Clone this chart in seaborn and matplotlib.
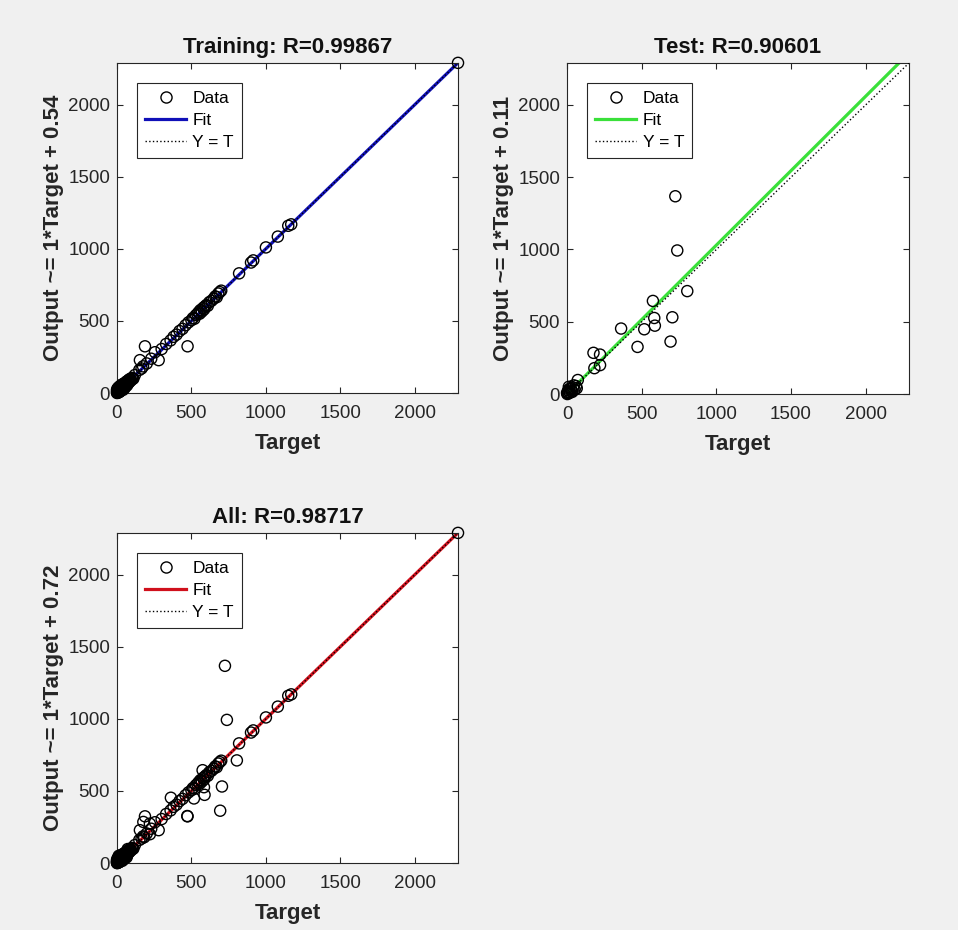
import numpy as np
import pandas as pd
import seaborn as sns
import matplotlib.pyplot as plt
from matplotlib.lines import Line2D

# --- data ---

train_target = [0, 0, 1, 2, 3, 4, 5, 6, 7, 8, 9, 10, 11, 12, 13, 14, 15, 16, 18, 19,
                20, 21, 22, 24, 25, 26, 28, 29, 30, 32, 33, 35, 36, 38, 40, 41, 42, 44,
                45, 47, 48, 50, 52, 55, 57, 58, 60, 62, 65, 67, 70, 72, 75, 78, 80, 83,
                85, 88, 90, 95, 100, 105, 110, 120,
                150, 154, 165, 175, 188, 200, 230, 255, 280, 300, 330, 360, 380, 400, 420,
                440, 460, 474, 480, 500, 510, 520, 530, 540, 548, 555, 560, 570, 578, 585,
                590, 600, 610, 620, 635, 650, 660, 670, 680, 690, 700, 820, 900, 915, 1000,
                1080, 1150, 1170, 2290]
train_output = [4, 20, 0, 12, 30, 2, 10, 22, 6, 16, 35, 18, 4, 40, 12, 22, 8, 28, 45, 14,
                10, 32, 26, 50, 16, 38, 20, 55, 38, 25, 44, 30, 60, 42, 48, 22, 36, 58,
                52, 66, 40, 58, 35, 46, 70, 65, 55, 78, 70, 52, 62, 85, 76, 70, 88, 95,
                78, 92, 96, 88, 105, 98, 100, 125,
                160, 228, 170, 185, 324, 205, 238, 283, 228, 305, 340, 365, 390, 405, 430,
                445, 470, 324, 490, 505, 520, 515, 540, 548, 560, 550, 575, 565, 590, 580,
                600, 610, 605, 630, 640, 655, 670, 665, 690, 700, 710, 830, 905, 920, 1010,
                1085, 1160, 1170, 2290]

test_target = [725, 738, 805, 575, 584, 588, 705, 517, 362, 472, 693, 177, 221, 183, 221,
               72, 60, 30, 15, 10, 40, 20, 5, 50, 2, 0, 8, 25, 35, 45, 65, 12]
test_output = [1368, 993, 712, 644, 526, 473, 531, 448, 453, 326, 363, 285, 273, 179, 200,
               97, 55, 20, 35, 5, 45, 10, 15, 30, 0, 8, 25, 40, 15, 60, 40, 50]

titles = ["Training: R=0.99867", "Test: R=0.90601", "All: R=0.98717"]
ylabels = ["Output ~= 1*Target + 0.54", "Output ~= 1*Target + 0.11", "Output ~= 1*Target + 0.72"]
fit_slope = [1.0, 1.03, 1.0]
fit_intercept = [0.54, 0.11, 0.72]
fit_colors = ["#1010b8", "#3ae03a", "#d0101c"]
ticks = [0, 500, 1000, 1500, 2000]

sets = [
    pd.DataFrame({"target": train_target, "output": train_output}),
    pd.DataFrame({"target": test_target, "output": test_output}),
]
sets.append(pd.concat(sets, ignore_index=True))

lim = max(max(train_target), max(train_output))

plt.rcParams["font.family"] = ["Liberation Sans", "DejaVu Sans"]

fig = plt.figure(figsize=(9.58, 9.30), dpi=100, facecolor="#f0f0f0")

positions = [
    [0.1221, 0.5774, 0.356, 0.355],
    [0.5919, 0.5763, 0.357, 0.356],
    [0.1221, 0.0720, 0.356, 0.355],
]

for i, df in enumerate(sets):
    ax = fig.add_axes(positions[i])
    ax.set_facecolor("white")

    xs = np.array([0, lim])
    fit = ax.plot(xs, fit_slope[i] * xs + fit_intercept[i], color=fit_colors[i],
                  linewidth=2.3, zorder=2)[0]
    ident = ax.plot(xs, xs, color="black", linestyle=":", linewidth=1.0, zorder=3)[0]

    sns.scatterplot(data=df, x="target", y="output", ax=ax, marker="o", s=64,
                    color="none", edgecolor="black", linewidth=1.0, zorder=4,
                    clip_on=False)

    ax.set_xlim(0, lim)
    ax.set_ylim(0, lim)
    ax.set_xticks(ticks)
    ax.set_yticks(ticks)

    ax.set_title(titles[i], fontsize=16, fontweight="bold", pad=7, color="#111111")
    ax.set_xlabel("Target", fontsize=16, fontweight="bold", labelpad=8, color="#262626")
    ax.set_ylabel(ylabels[i], fontsize=16, fontweight="bold", labelpad=3, color="#262626")

    ax.tick_params(direction="in", top=True, right=True, length=4, width=0.8,
                   colors="#262626", labelsize=13.5)
    ax.tick_params(axis="x", pad=8.5)
    ax.tick_params(axis="y", pad=5)
    for sp in ax.spines.values():
        sp.set_color("#262626")
        sp.set_linewidth(0.8)

    data_handle = Line2D([], [], marker="o", linestyle="none", markerfacecolor="none",
                         markeredgecolor="black", markersize=8, markeredgewidth=1.0)
    leg = ax.legend([data_handle, fit, ident], ["Data", "Fit", "Y = T"], loc="upper left",
                    fontsize=12.5, frameon=True, fancybox=False, framealpha=1,
                    edgecolor="#262626", borderaxespad=1.15, handlelength=2.4,
                    handletextpad=0.35, labelspacing=0.4, borderpad=0.45)
    leg.get_frame().set_linewidth(0.8)

fig.savefig("out.png", dpi=100, facecolor=fig.get_facecolor())
